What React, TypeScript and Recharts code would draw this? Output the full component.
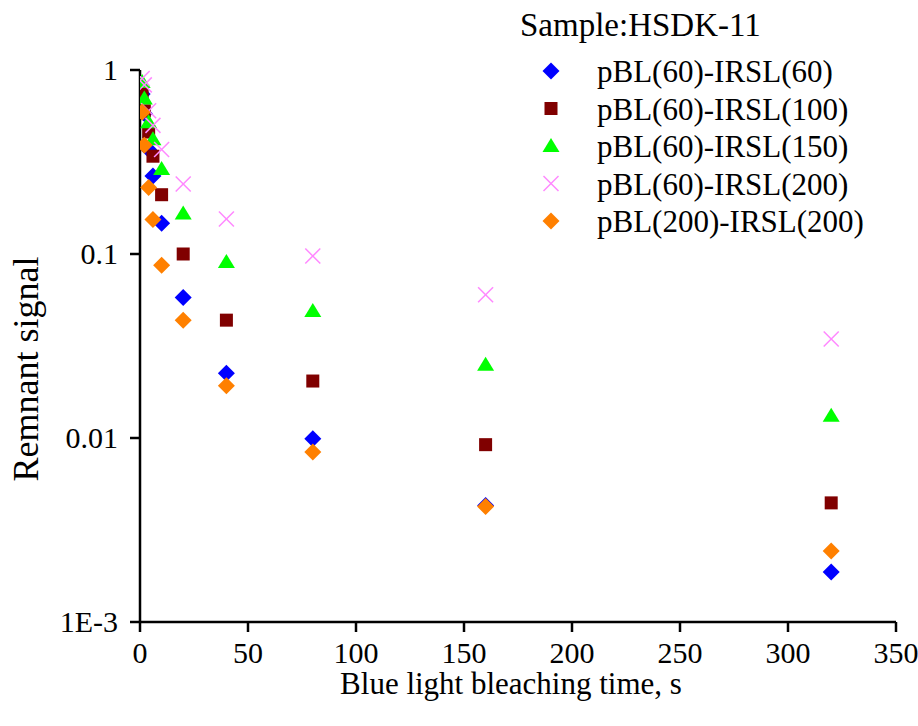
import React from "react";
import { ScatterChart, Scatter, XAxis, YAxis, Legend, Label } from "recharts";

const FONT = "'Liberation Serif', 'Times New Roman', serif";

// bleaching times (s) and remnant signal for each protocol
const times = [1, 2, 4, 6, 10, 20, 40, 80, 160, 320];
const ir60 = [0.74, 0.58, 0.37, 0.265, 0.147, 0.058, 0.0225, 0.0099, 0.0043, 0.00187];
const ir100 = [0.76, 0.6, 0.46, 0.34, 0.21, 0.1, 0.0437, 0.0204, 0.0092, 0.00444];
const ir150 = [0.86, 0.7, 0.52, 0.42, 0.29, 0.166, 0.0905, 0.049, 0.025, 0.0132];
const ir200 = [0.9, 0.83, 0.6, 0.5, 0.37, 0.24, 0.155, 0.0975, 0.06, 0.0345];
const pbl200 = [0.59, 0.39, 0.23, 0.154, 0.087, 0.0437, 0.0192, 0.0084, 0.00424, 0.00243];

const seriesNames = [
  "pBL(60)-IRSL(60)",
  "pBL(60)-IRSL(100)",
  "pBL(60)-IRSL(150)",
  "pBL(60)-IRSL(200)",
  "pBL(200)-IRSL(200)",
];

const xTicks = [0, 50, 100, 150, 200, 250, 300, 350];
const xMinorTicks = [25, 75, 125, 175, 225, 275, 325];
const yTicks = [0.001, 0.01, 0.1, 1];
const yLabels: Record<string, string> = { "0.001": "1E-3", "0.01": "0.01", "0.1": "0.1", "1": "1" };
const yMinorTicks: number[] = [];
[0.001, 0.01, 0.1].forEach((d) => {
  for (let k = 2; k <= 9; k++) yMinorTicks.push(+(d * k).toPrecision(3));
});

const toData = (vals: number[]) => times.map((t, i) => ({ t, v: vals[i] }));

const txt = { fontFamily: FONT, fill: "#000" };

type M = { cx: number; cy: number };

const Diamond = ({ cx, cy, fill }: M & { fill: string }) => (
  <path d={`M${cx},${cy - 8.5}L${cx + 8.5},${cy}L${cx},${cy + 8.5}L${cx - 8.5},${cy}Z`} fill={fill} />
);
const Square = ({ cx, cy }: M) => <rect x={cx - 6.5} y={cy - 6.5} width={13} height={13} fill="#800000" />;
const Triangle = ({ cx, cy }: M) => (
  <path d={`M${cx},${cy - 8}L${cx + 8.5},${cy + 6}L${cx - 8.5},${cy + 6}Z`} fill="#00ff00" />
);
const Cross = ({ cx, cy }: M) => (
  <g stroke="#ff88ff" strokeWidth={1.5}>
    <line x1={cx - 7.5} y1={cy - 7.5} x2={cx + 7.5} y2={cy + 7.5} />
    <line x1={cx - 7.5} y1={cy + 7.5} x2={cx + 7.5} y2={cy - 7.5} />
  </g>
);

const markers = [
  (cx: number, cy: number) => <Diamond cx={cx} cy={cy} fill="#0000ff" />,
  (cx: number, cy: number) => <Square cx={cx} cy={cy} />,
  (cx: number, cy: number) => <Triangle cx={cx} cy={cy} />,
  (cx: number, cy: number) => <Cross cx={cx} cy={cy} />,
  (cx: number, cy: number) => <Diamond cx={cx} cy={cy} fill="#ff8000" />,
];

const LegendBox = () => {
  const rows = [71, 108.5, 146, 183.5, 221];
  return (
    <svg width={918} height={260} style={{ display: "block" }}>
      <text x={520} y={36} fontSize={33} style={txt}>
        Sample:HSDK-11
      </text>
      {seriesNames.map((name, i) => (
        <g key={name}>
          {markers[i](551, rows[i])}
          <text x={597} y={rows[i] + 11} fontSize={31} style={txt}>
            {name}
          </text>
        </g>
      ))}
    </svg>
  );
};

const XTick = ({ x, y, payload }: any) => (
  <text x={x} y={y + 21} textAnchor="middle" fontSize={30} style={txt}>
    {payload.value}
  </text>
);
const YTick = ({ x, y, payload }: any) => (
  <text x={x} y={y + 10} textAnchor="end" fontSize={30} style={txt}>
    {yLabels[String(payload.value)] ?? String(payload.value)}
  </text>
);

const axisStyle = { stroke: "#000", strokeWidth: 2.5 };
const noTick = () => <g />;

export default function App() {
  const allSeries = [ir60, ir100, ir150, ir200, pbl200];
  return (
    <div style={{ position: "absolute", left: 0, top: 0, width: 918, height: 726, background: "#fff" }}>
      <ScatterChart width={918} height={726} margin={{ top: 70, right: 22, bottom: 24, left: 40 }}>
        {/* minor tick axes first, zero size so they share the main axis line */}
        <XAxis
          xAxisId="minor"
          type="number"
          domain={[0, 350]}
          allowDataOverflow
          ticks={xMinorTicks}
          height={0}
          axisLine={false}
          tickLine={axisStyle}
          tickSize={5}
          tick={noTick}
        />
        <YAxis
          yAxisId="minor"
          type="number"
          scale="log"
          domain={[0.001, 1]}
          allowDataOverflow
          ticks={yMinorTicks}
          width={0}
          axisLine={false}
          tickLine={axisStyle}
          tickSize={5}
          tick={noTick}
        />
        <XAxis
          dataKey="t"
          type="number"
          domain={[0, 350]}
          allowDataOverflow
          ticks={xTicks}
          interval={0}
          height={80}
          axisLine={axisStyle}
          tickLine={axisStyle}
          tickSize={10}
          tickMargin={10}
          tick={<XTick />}
        >
          <Label
            content={({ viewBox }: any) => (
              <text
                x={viewBox.x + viewBox.width / 2 - 7}
                y={viewBox.y + 72}
                textAnchor="middle"
                fontSize={31}
                style={txt}
              >
                Blue light bleaching time, s
              </text>
            )}
          />
        </XAxis>
        <YAxis
          dataKey="v"
          type="number"
          scale="log"
          domain={[0.001, 1]}
          allowDataOverflow
          ticks={yTicks}
          interval={0}
          width={100}
          axisLine={axisStyle}
          tickLine={axisStyle}
          tickSize={10}
          tickMargin={12}
          tick={<YTick />}
        >
          <Label
            content={({ viewBox }: any) => {
              const x = viewBox.x - 2;
              const y = viewBox.y + viewBox.height / 2 + 23;
              return (
                <text
                  x={x}
                  y={y}
                  transform={`rotate(-90 ${x} ${y})`}
                  textAnchor="middle"
                  fontSize={36}
                  style={txt}
                >
                  Remnant signal
                </text>
              );
            }}
          />
        </YAxis>
        <Legend
          layout="vertical"
          align="center"
          verticalAlign="middle"
          wrapperStyle={{ position: "absolute", left: 0, top: 0, width: 918, height: 260 }}
          content={() => <LegendBox />}
        />
        {allSeries.map((vals, i) => (
          <Scatter
            key={seriesNames[i]}
            name={seriesNames[i]}
            data={toData(vals)}
            isAnimationActive={false}
            shape={(p: any) => markers[i](p.cx, p.cy)}
          />
        ))}
      </ScatterChart>
    </div>
  );
}
